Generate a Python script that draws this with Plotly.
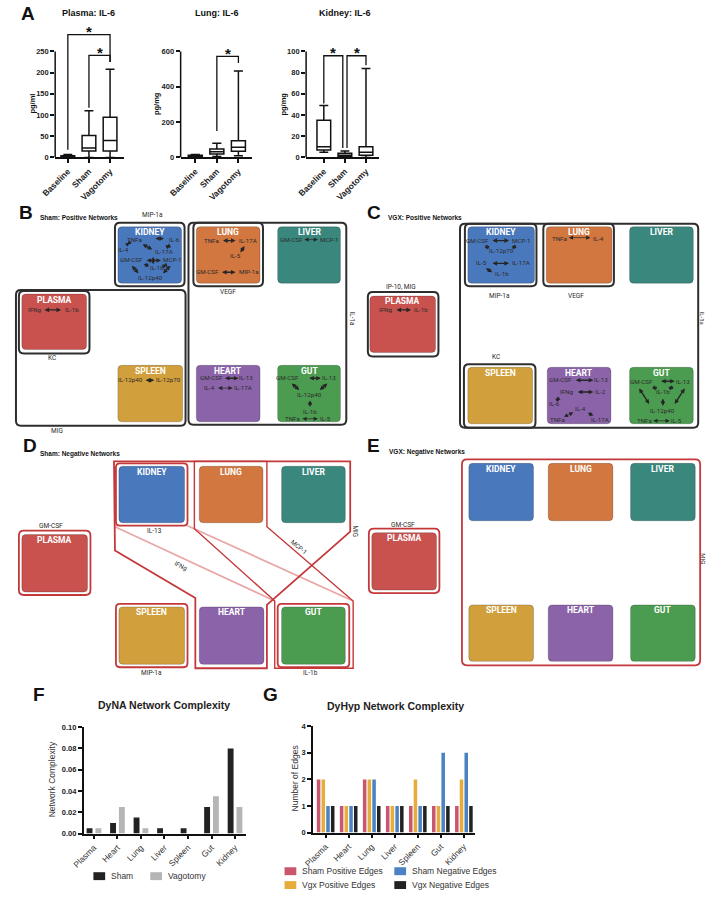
import plotly.graph_objects as go

W, H = 708, 897


def X(p):
    return p / W


def Y(p):
    return 1 - p / H


# ======================= DATA =======================
# Panel A: IL-6 box-plot summaries
il6_groups = ["Baseline", "Sham", "Vagotomy"]
plasma_q1 = [1, 15, 15]
plasma_med = [2, 22, 40]
plasma_q3 = [4, 52, 95]
plasma_lo = [0, 0, 0]
plasma_hi = [7, 110, 208]

lung_q1 = [5, 20, 35]
lung_med = [8, 32, 58]
lung_q3 = [12, 48, 95]
lung_lo = [2, 5, 10]
lung_hi = [16, 80, 490]

kid_q1 = [7, 1, 2]
kid_med = [10, 2, 5]
kid_q3 = [35, 4, 10]
kid_lo = [5, 0, 0]
kid_hi = [49, 6, 84]

plasma_ticks = [0, 50, 100, 150, 200, 250]
lung_ticks = [0, 200, 400, 600]
kid_ticks = [0, 20, 40, 60, 80, 100]

# Panels F / G
organs = ["Plasma", "Heart", "Lung", "Liver", "Spleen", "Gut", "Kidney"]
dyna_sham = [0.005, 0.010, 0.015, 0.005, 0.005, 0.025, 0.080]
dyna_vag = [0.005, 0.025, 0.005, 0.0, 0.0, 0.035, 0.025]
dyna_ticks = [0.00, 0.02, 0.04, 0.06, 0.08, 0.10]

dyhyp_sham_pos = [2, 1, 2, 1, 1, 1, 1]
dyhyp_vgx_pos = [2, 1, 2, 1, 2, 1, 2]
dyhyp_sham_neg = [1, 1, 2, 1, 1, 3, 3]
dyhyp_vgx_neg = [1, 1, 1, 1, 1, 1, 1]
dyhyp_ticks = [0, 1, 2, 3, 4]

# Tissue names / colours for network panels
tissues = ["KIDNEY", "LUNG", "LIVER", "PLASMA", "SPLEEN", "HEART", "GUT"]
tissue_colors = {"KIDNEY": "#4a78bd", "LUNG": "#d1773f", "LIVER": "#3a877e",
                 "PLASMA": "#c9524f", "SPLEEN": "#d29f3d", "HEART": "#8b63a9",
                 "GUT": "#4b9c50"}

# ======================= FIGURE =======================
fig = go.Figure()
shapes = []
annotations = []

ARIAL = "Liberation Sans, Arial, sans-serif"
ROBOTO = "Roboto, sans-serif"
LBL = "#2b2b2b"


def txt(s, x, y, size=7, color=LBL, bold=False, family=ROBOTO, angle=0,
        xanchor="center", yanchor="middle"):
    annotations.append(dict(text=s, x=X(x), y=Y(y), xref="paper", yref="paper",
                            showarrow=False, textangle=angle, borderpad=0,
                            xanchor=xanchor, yanchor=yanchor,
                            font=dict(size=size, color=color, family=family,
                                      weight="bold" if bold else "normal")))


def arrow(x0, y0, x1, y1, thick=True, double=True, color="#262626"):
    annotations.append(dict(x=X(x1), y=Y(y1), xref="paper", yref="paper",
                            ax=x0 - x1, ay=y0 - y1, axref="pixel", ayref="pixel",
                            text="", showarrow=True, arrowhead=2, startarrowhead=2,
                            arrowside="end+start" if double else "end",
                            arrowwidth=1.4 if thick else 0.7,
                            arrowsize=0.65 if thick else 1.2,
                            startarrowsize=0.65 if thick else 1.2,
                            arrowcolor=color, standoff=0, startstandoff=0))


def P(x, y):
    return f"{X(x):.5f},{Y(y):.5f}"


def rrect(x0, y0, x1, y1, r, fill=None, line="#2e2e2e", lw=2.0):
    path = (f"M{P(x0 + r, y0)} L{P(x1 - r, y0)} Q{P(x1, y0)} {P(x1, y0 + r)} "
            f"L{P(x1, y1 - r)} Q{P(x1, y1)} {P(x1 - r, y1)} L{P(x0 + r, y1)} "
            f"Q{P(x0, y1)} {P(x0, y1 - r)} L{P(x0, y0 + r)} Q{P(x0, y0)} {P(x0 + r, y0)} Z")
    shapes.append(dict(type="path", path=path, xref="paper", yref="paper",
                       fillcolor=fill if fill else "rgba(0,0,0,0)",
                       line=dict(color=line, width=lw), layer="above"))


def poly(pts, line, lw):
    path = "M" + " L".join(P(x, y) for x, y in pts) + " Z"
    shapes.append(dict(type="path", path=path, xref="paper", yref="paper",
                       fillcolor="rgba(0,0,0,0)", line=dict(color=line, width=lw),
                       layer="above"))


def seg(pts, line, lw):
    path = "M" + " L".join(P(x, y) for x, y in pts)
    shapes.append(dict(type="path", path=path, xref="paper", yref="paper",
                       line=dict(color=line, width=lw), layer="above"))


def node(name, box):
    x0, y0, x1, y1 = box
    c = tissue_colors[name]
    rrect(x0, y0, x1, y1, 4, fill=c, line="rgba(0,0,0,0.25)", lw=0.8)
    txt(name, (x0 + x1) / 2, y0 + 5.5, size=8.5, color="white", bold=True)


# ---------------- Panel A: box plots ----------------
A_panels = [
    ("x", "y", plasma_q1, plasma_med, plasma_q3, plasma_lo, plasma_hi),
    ("x2", "y2", lung_q1, lung_med, lung_q3, lung_lo, lung_hi),
    ("x3", "y3", kid_q1, kid_med, kid_q3, kid_lo, kid_hi),
]
for xa, ya, q1, md, q3, lo, hi in A_panels:
    fig.add_trace(go.Box(x=il6_groups, q1=q1, median=md, q3=q3,
                         lowerfence=lo, upperfence=hi, xaxis=xa, yaxis=ya,
                         fillcolor="white", line=dict(color="#111111", width=1.5),
                         width=0.65, whiskerwidth=0.65, boxpoints=False,
                         showlegend=False, hoverinfo="skip"))

# ---------------- Panel F / G bars ----------------
f_series = [(dyna_sham, "Sham", "#222222"), (dyna_vag, "Vagotomy", "#b5b5b5")]
f_centers = [-4.5 / 24, 4.5 / 24]
f_w = 6 / 24
for (vals, nm, col), c in zip(f_series, f_centers):
    fig.add_trace(go.Bar(x=organs, y=vals, name=nm, marker=dict(color=col, line=dict(width=0)),
                         width=f_w, offset=c - f_w / 2, xaxis="x4", yaxis="y4",
                         showlegend=False))

g_series = [(dyhyp_sham_pos, "Sham Positive Edges", "#c9566c"),
            (dyhyp_vgx_pos, "Vgx Positive Edges", "#e6ad3d"),
            (dyhyp_sham_neg, "Sham Negative Edges", "#4b82c3"),
            (dyhyp_vgx_neg, "Vgx Negative Edges", "#222222")]
g_slot = 4.8 / 23.5
g_w = 3.6 / 23.5
for i, (vals, nm, col) in enumerate(g_series):
    c = (i - 1.5) * g_slot
    fig.add_trace(go.Bar(x=organs, y=vals, name=nm, marker=dict(color=col, line=dict(width=0)),
                         width=g_w, offset=c - g_w / 2, xaxis="x5", yaxis="y5",
                         showlegend=False))

# ---------------- axes ----------------
tick_bold = dict(family=ARIAL, size=7.5, color="#222222", weight="bold")
tick_boldx = dict(family=ARIAL, size=8.5, color="#222222", weight="bold")
tick_reg = dict(family=ARIAL, size=8.5, color="#333333")


def xaxis_cfg(x0, x1, rng, font, anchor, tickangle=-45):
    return dict(domain=[X(x0), X(x1)], range=rng, type="category", showline=True,
                linecolor="#111111", linewidth=1.5, ticks="outside", ticklen=4,
                tickwidth=1.5, tickcolor="#111111", tickangle=tickangle, tickfont=font,
                showgrid=False, zeroline=False, fixedrange=True, anchor=anchor)


def yaxis_cfg(top, bottom, rng, tickvals, font, anchor, showline=False, fmt=None):
    d = dict(domain=[Y(bottom), Y(top)], range=rng, showline=showline,
             linecolor="#111111", linewidth=1.5, ticks="outside", ticklen=4,
             tickwidth=1.5, tickcolor="#111111", tickvals=tickvals, tickfont=font,
             showgrid=False, zeroline=False, fixedrange=True, anchor=anchor)
    if fmt:
        d["tickformat"] = fmt
    return d


layout_axes = dict(
    xaxis=xaxis_cfg(42, 112, [-0.6, 2.65], tick_boldx, "y"),
    yaxis=yaxis_cfg(18, 155, [0, 320], plasma_ticks, tick_bold, "x"),
    xaxis2=xaxis_cfg(170, 243, [-0.68, 2.64], tick_boldx, "y2"),
    yaxis2=yaxis_cfg(18, 155, [0, 768], lung_ticks, tick_bold, "x2"),
    xaxis3=xaxis_cfg(298, 372, [-0.84, 2.6], tick_boldx, "y3"),
    yaxis3=yaxis_cfg(18, 155, [0, 128], kid_ticks, tick_bold, "x3"),
    xaxis4=xaxis_cfg(71, 237, [-0.44, 6.48], tick_reg, "y4"),
    yaxis4=yaxis_cfg(730, 838, [0, 0.1004], dyna_ticks, tick_bold, "x4", showline=True, fmt=".2f"),
    xaxis5=xaxis_cfg(305, 470, [-0.55, 6.47], tick_reg, "y5"),
    yaxis5=yaxis_cfg(729, 837, [0, 4.02], dyhyp_ticks, tick_bold, "x5", showline=True),
)

# y-axis lines for panel A (only up to top tick)
for xa, ya, ticks in [("x", "y", plasma_ticks), ("x2", "y2", lung_ticks), ("x3", "y3", kid_ticks)]:
    shapes.append(dict(type="line", xref=f"{xa} domain", yref=ya, x0=0, x1=0,
                       y0=0, y1=ticks[-1], line=dict(color="#111111", width=1.5)))


# significance brackets (data coordinates)
def bracket(xa, ya, xl, xr, ytop, yl, yr, star_y):
    shapes.append(dict(type="path", xref=xa, yref=ya,
                       path=f"M{xl},{yl} L{xl},{ytop} L{xr},{ytop} L{xr},{yr}",
                       line=dict(color="#111111", width=1.3)))
    annotations.append(dict(text="*", x=(xl + xr) / 2, y=star_y, xref=xa, yref=ya,
                            showarrow=False, yanchor="middle",
                            font=dict(family=ARIAL, size=15, color="#111111", weight="bold")))


bracket("x", "y", 0, 2, 290, 18, 225, 296)
bracket("x", "y", 1, 2, 241, 117, 225, 247)
bracket("x2", "y2", 1, 2, 572, 150, 535, 586)
bracket("x3", "y3", 0, 0.9, 96, 51, 9, 99)
bracket("x3", "y3", 1.1, 2, 96, 9, 87, 99)

# Panel A titles
txt("A", 14, 10, size=19, color="#111111", bold=True, family=ARIAL)
txt("Plasma: IL-6", 76, 9, size=9, color="#111111", bold=True, family=ARIAL)
txt("Lung: IL-6", 207, 9, size=9, color="#111111", bold=True, family=ARIAL)
txt("Kidney: IL-6", 338, 9, size=9, color="#111111", bold=True, family=ARIAL)
txt("pg/ml", 19, 101, size=7.5, color="#111111", bold=True, family=ARIAL, angle=-90)
txt("pg/mg", 146, 101, size=7.5, color="#111111", bold=True, family=ARIAL, angle=-90)
txt("pg/mg", 275, 101, size=7.5, color="#111111", bold=True, family=ARIAL, angle=-90)

# ---------------- Panel B ----------------
txt("B", 12, 211, size=19, color="#111111", bold=True, family=ARIAL)
txt("Sham: Positive Networks", 25, 216, size=6.5, color="#111111", bold=True,
    family=ARIAL, xanchor="left")
B_nodes = {"KIDNEY": (106, 225, 171, 282), "LUNG": (186, 225, 251, 282),
           "LIVER": (269, 225, 333, 282), "PLASMA": (8, 293, 74, 349),
           "SPLEEN": (106, 365, 172, 422), "HEART": (186, 365, 251, 422),
           "GUT": (269, 365, 333, 422)}
for n in tissues:
    node(n, B_nodes[n])
rrect(103, 221, 174, 285, 5)
txt("MIP-1a", 141, 213, size=6.5)
rrect(183, 221, 254, 285, 5)
txt("VEGF", 218, 291, size=6.5)
rrect(178, 221, 339, 425, 5)
txt("IL-1a", 345, 318, size=6.3, angle=90)
rrect(5, 290, 77, 353, 5)
txt("KC", 39, 358, size=6.5)
rrect(2, 289, 175, 426, 5)
txt("MIG", 44, 431, size=6.5)

# node-internal networks (B)
for s, x, y in [("TNFa", 123, 238), ("IL-6", 164, 238), ("IL-4", 112, 248),
                ("IL-17A", 153, 251), ("GM-CSF", 120, 259), ("MCP-1", 162, 259),
                ("IL-1b", 146, 267), ("IL-12p40", 139, 277),
                ("TNFa", 201, 239), ("IL-17A", 239, 239), ("IL-5", 226, 255),
                ("GM-CSF", 197, 271), ("MIP-1a", 240, 271),
                ("GM-CSF", 283, 238), ("MCP-1", 322, 238),
                ("IFNg", 21, 309), ("IL-1b", 59, 309),
                ("IL-12p40", 119, 380), ("IL-12p70", 158, 380),
                ("GM-CSF", 201, 378), ("IL-13", 237, 378), ("IL-4", 199, 388),
                ("IL-17A", 234, 388),
                ("GM-CSF", 279, 378), ("IL-13", 321, 378), ("IL-12p40", 301, 395),
                ("IL-1b", 302, 412), ("TNFa", 284, 419), ("IL-5", 318, 419)]:
    txt(s, x, y, size=6.2)
for a in [(130, 242, 141, 248, True), (161, 243, 155, 246, True), (143, 237, 153, 237, False),
          (114, 244, 118, 241, False), (134, 259, 150, 259, True), (142, 254, 142, 263, True),
          (119, 263, 127, 272, True), (161, 263, 152, 272, True), (131, 262, 138, 265, False),
          (157, 263, 152, 265, False), (112, 252, 115, 255, False),
          (212, 239, 226, 239, True), (236, 243, 231, 251, False), (211, 271, 226, 271, True),
          (295, 238, 310, 238, False), (30, 309, 48, 309, True), (133, 380, 143, 380, True),
          (214, 378, 229, 378, True), (207, 388, 223, 388, False),
          (300, 378, 313, 378, True), (282, 382, 291, 390, True), (321, 382, 312, 390, True),
          (302, 399, 302, 407, False), (293, 419, 310, 419, False)]:
    arrow(a[0], a[1], a[2], a[3], thick=a[4])

# ---------------- Panel C ----------------
txt("C", 367, 211, size=19, color="#111111", bold=True, family=ARIAL)
txt("VGX: Positive Networks", 381, 216, size=6.5, color="#111111", bold=True,
    family=ARIAL, xanchor="left")
C_nodes = {"KIDNEY": (463, 225, 531, 282), "LUNG": (543, 225, 610, 282),
           "LIVER": (628, 225, 693, 282), "PLASMA": (363, 295, 430, 352),
           "SPLEEN": (463, 367, 529, 424), "HEART": (544, 367, 609, 424),
           "GUT": (628, 367, 693, 424)}
for n in tissues:
    node(n, C_nodes[n])
rrect(460, 222, 533, 285, 5)
txt("MIP-1a", 495, 295, size=6.5)
rrect(540, 222, 612, 285, 5)
txt("VEGF", 573, 295, size=6.5)
rrect(455, 222, 698, 428, 5)
txt("IL-1a", 702, 317, size=6.0, angle=90)
rrect(361, 291, 433, 356, 5)
txt("IP-10, MIG", 395, 286, size=6.5)
rrect(459, 364, 532, 428, 5)
txt("KC", 492, 357, size=6.5)
for s, x, y in [("GM-CSF", 473, 239), ("MCP-1", 518, 239), ("IL-12p70", 497, 249),
                ("IL-5", 477, 262), ("IL-17A", 517, 262), ("IL-1b", 498, 273),
                ("TNFa", 557, 237), ("IL-4", 596, 237),
                ("IFNg", 380, 309), ("IL-1b", 415, 309),
                ("GM-CSF", 558, 380), ("IL-13", 599, 380), ("IFNg", 564, 392),
                ("IL-2", 598, 392), ("IL-6", 551, 404), ("IL-4", 578, 409),
                ("TNFa", 554, 420), ("IL-17A", 598, 420),
                ("GM-CSF", 640, 382), ("IL-13", 683, 382), ("IL-1b", 662, 392),
                ("IL-12p40", 662, 411), ("TNFa", 643, 421), ("IL-5", 676, 421)]:
    txt(s, x, y, size=6.2)
for a in [(487, 239, 505, 239, True), (479, 243, 485, 247, False), (514, 243, 508, 247, False),
          (487, 262, 505, 262, True), (480, 266, 488, 271, False),
          (565, 236, 588, 236, False), (389, 309, 405, 309, True),
          (572, 380, 591, 380, True), (574, 392, 591, 392, True), (558, 396, 553, 401, False),
          (572, 412, 561, 417, False), (584, 412, 591, 416, False),
          (659, 381, 674, 381, True), (637, 387, 648, 404, True), (685, 387, 674, 404, True),
          (650, 386, 656, 389, False), (662, 397, 662, 406, False), (674, 386, 668, 389, False),
          (651, 421, 669, 421, False)]:
    arrow(a[0], a[1], a[2], a[3], thick=a[4])

# ---------------- Panel D ----------------
RED = "#c4383a"
PINK = "#eaa7a7"
txt("D", 16, 446, size=19, color="#111111", bold=True, family=ARIAL)
txt("Sham: Negative Networks", 26, 455, size=6.5, color="#111111", bold=True,
    family=ARIAL, xanchor="left")
D_nodes = {"KIDNEY": (107, 467, 174, 524), "LUNG": (189, 467, 254, 524),
           "LIVER": (273, 467, 338, 524), "PLASMA": (8, 536, 75, 594),
           "SPLEEN": (107, 609, 174, 667), "HEART": (189, 609, 255, 667),
           "GUT": (273, 609, 338, 667)}
for n in tissues:
    node(n, D_nodes[n])
seg([(103, 528), (266, 603)], PINK, 1.8)
seg([(177, 527), (346, 603)], PINK, 1.8)
txt("IFNg", 170, 568, size=6.3, angle=25)
rrect(104, 464, 177, 527, 4, line=RED, lw=1.8)
txt("IL-13", 143, 532, size=6.5)
rrect(5, 532, 78, 597, 5, line=RED, lw=1.8)
txt("GM-CSF", 38, 527, size=6.5)
rrect(104, 606, 177, 670, 4, line=RED, lw=1.8)
txt("MIP-1a", 140, 676, size=6.5)
rrect(269, 606, 342, 670, 4, line=RED, lw=1.8)
txt("IL-1b", 302, 676, size=6.5)
poly([(102, 462), (343, 462), (343, 533), (258, 607), (258, 671), (185, 671),
      (185, 600), (103, 552)], RED, 1.8)
txt("MIG", 348, 533, size=6.3, angle=90)
poly([(184, 462), (258, 462), (258, 528), (346, 603), (346, 671), (266, 671),
      (266, 603), (184, 530)], RED, 1.4)
txt("MCP-1", 290, 549, size=6.3, angle=40)

# ---------------- Panel E ----------------
txt("E", 367, 446, size=19, color="#111111", bold=True, family=ARIAL)
txt("VGX: Negative Networks", 382, 453, size=6.5, color="#111111", bold=True,
    family=ARIAL, xanchor="left")
E_nodes = {"KIDNEY": (464, 464, 530, 522), "LUNG": (545, 464, 611, 522),
           "LIVER": (629, 464, 695, 522), "PLASMA": (365, 534, 431, 592),
           "SPLEEN": (464, 607, 530, 664), "HEART": (545, 607, 611, 664),
           "GUT": (629, 607, 695, 664)}
for n in tissues:
    node(n, E_nodes[n])
rrect(457, 460, 700, 668, 5, line=RED, lw=1.8)
txt("MIG", 704, 560, size=6.0, angle=90)
rrect(362, 530, 434, 595, 5, line=RED, lw=1.8)
txt("GM-CSF", 397, 526, size=6.5)

# ---------------- Panel F / G text + legends ----------------
txt("F", 26, 698, size=19, color="#111111", bold=True, family=ARIAL)
txt("DyNA Network Complexity", 153, 708, size=10.5, color="#222222", bold=True, family=ARIAL)
txt("Network Complexity", 39, 783, size=8.5, color="#333333", family=ARIAL, angle=-90)
txt("G", 262, 698, size=19, color="#111111", bold=True, family=ARIAL)
txt("DyHyp Network Complexity", 389, 709, size=10.5, color="#222222", bold=True, family=ARIAL)
txt("Number of Edges", 287, 782, size=8.5, color="#333333", family=ARIAL, angle=-90)


def legend_item(x0, y0, col, label):
    shapes.append(dict(type="rect", xref="paper", yref="paper", x0=X(x0), x1=X(x0 + 12),
                       y0=Y(y0 + 8), y1=Y(y0), fillcolor=col, line=dict(width=0)))
    txt(label, x0 + 17, y0 + 4, size=8.5, color="#333333", family=ARIAL, xanchor="left")


legend_item(81, 877, f_series[0][2], f_series[0][1])
legend_item(139, 877, f_series[1][2], f_series[1][1])
legend_item(276, 872, g_series[0][2], g_series[0][1])
legend_item(388, 872, g_series[2][2], g_series[2][1])
legend_item(276, 886, g_series[1][2], g_series[1][1])
legend_item(388, 886, g_series[3][2], g_series[3][1])

fig.update_layout(
    width=W, height=H, margin=dict(l=0, r=0, t=0, b=0),
    paper_bgcolor="white", plot_bgcolor="rgba(0,0,0,0)",
    barmode="overlay", showlegend=False,
    shapes=shapes, annotations=annotations, **layout_axes,
)

fig.write_html("out.html", config={"displayModeBar": False},
               post_script="document.body.style.margin='0px';"
                           "document.body.style.overflow='hidden';")
